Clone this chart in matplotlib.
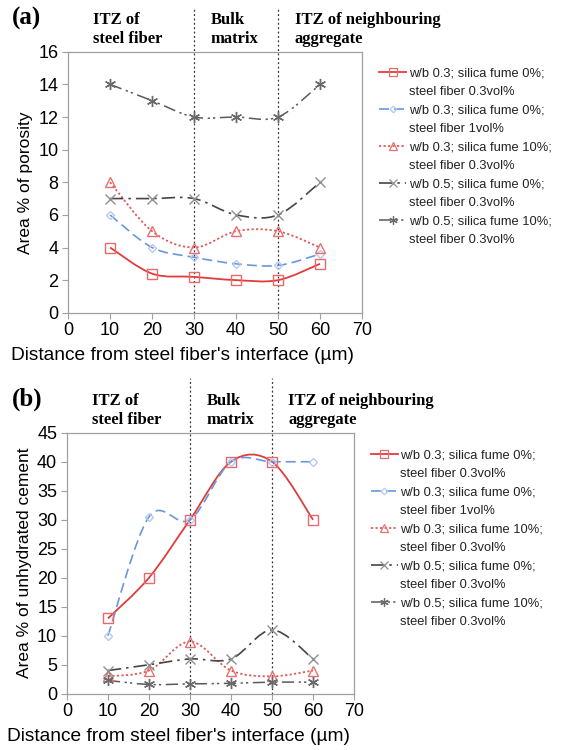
"""
Porosity and unhydrated cement around the steel fiber interface
"""
import matplotlib
matplotlib.use('Agg')
import matplotlib.pyplot as plt
from matplotlib.path import Path
from matplotlib.patches import PathPatch
from matplotlib.lines import Line2D

distance = [10, 20, 30, 40, 50, 60]

labels = ['w/b 0.3; silica fume 0%;\nsteel fiber 0.3vol%',
          'w/b 0.3; silica fume 0%;\nsteel fiber 1vol%',
          'w/b 0.3; silica fume 10%;\nsteel fiber 0.3vol%',
          'w/b 0.5; silica fume 0%;\nsteel fiber 0.3vol%',
          'w/b 0.5; silica fume 10%;\nsteel fiber 0.3vol%']

# (a) area % of porosity
porosity_s1 = [4, 2.4, 2.2, 2, 2, 3]
porosity_s2 = [6, 4, 3.4, 3, 2.9, 3.6]
porosity_s3 = [8, 5, 4, 5, 5, 4]
porosity_s4 = [7, 7, 7, 6, 6, 8]
porosity_s5 = [14, 13, 12, 12, 12, 14]

# (b) area % of unhydrated cement
unhydrated_s1 = [13, 20, 30, 40, 40, 30]
unhydrated_s2 = [10, 30.5, 30, 40, 40, 40]
unhydrated_s3 = [3, 4, 9, 4, 3, 4]
unhydrated_s4 = [4, 5, 6, 6, 11, 6]
unhydrated_s5 = [2.3, 1.6, 1.7, 1.8, 2, 2]

styles = [
    dict(color='#e03c3c', ls='-', lw=1.3, marker='s', mec='#e86a6a', ms=7.5),
    dict(color='#6a96e0', ls=(0, (6, 3)), lw=1.2, marker='D', mec='#b8c8ee', ms=4.5),
    dict(color='#e05858', ls=(0, (1.2, 1.3)), lw=1.3, marker='^', mec='#e87070', ms=7.5),
    dict(color='#454545', ls=(0, (8, 3, 1.5, 3)), lw=1.2, marker='x', mec='#909090', ms=7),
    dict(color='#5a5a5a', ls=(0, (8, 3, 1.5, 2, 1.5, 3)), lw=1.1,
         marker=(6, 2, 0), mec='#6a6a6a', ms=8),
]

serif = ['Liberation Serif', 'DejaVu Serif']
sans = ['Liberation Sans', 'DejaVu Sans']
plt.rcParams['font.family'] = sans


def smooth_path(x, y):
    # Excel-like smoothed line (Bezier segments through the points)
    pts = list(zip(x, y))
    verts = [pts[0]]
    codes = [Path.MOVETO]
    n = len(pts)
    for i in range(n - 1):
        p0 = pts[i - 1] if i > 0 else pts[i]
        p1 = pts[i]
        p2 = pts[i + 1]
        p3 = pts[i + 2] if i + 2 < n else pts[i + 1]
        c1 = (p1[0] + (p2[0] - p0[0]) / 6, p1[1] + (p2[1] - p0[1]) / 6)
        c2 = (p2[0] - (p3[0] - p1[0]) / 6, p2[1] - (p3[1] - p1[1]) / 6)
        verts += [c1, c2, p2]
        codes += [Path.CURVE4] * 3
    return Path(verts, codes)


def draw_panel(ax, series, ymax, ystep, ylabel, tag, vtop, leg_y):
    for vals, st in zip(series, styles):
        ax.add_patch(PathPatch(smooth_path(distance, vals), fill=False,
                               edgecolor=st['color'], linestyle=st['ls'],
                               lw=st['lw'], zorder=3))
        ax.plot(distance, vals, linestyle='none', marker=st['marker'],
                mfc='none', mec=st['mec'], ms=st['ms'], mew=1.0, zorder=4)
    for xv in (30, 50):
        ax.axvline(xv, ymin=0, ymax=vtop, color='#333333', lw=0.9,
                   ls=(0, (1.5, 2)), clip_on=False, zorder=2)
    ax.set_xlim(0, 70)
    ax.set_ylim(0, ymax)
    ax.set_xticks(range(0, 71, 10))
    ax.set_yticks(range(0, ymax + 1, ystep))
    for sp in ax.spines.values():
        sp.set_color('#a0a0a0')
        sp.set_linewidth(0.9)
    ax.tick_params(direction='out', length=4, color='#a0a0a0',
                   labelsize=13, pad=3)
    ax.set_ylabel(ylabel, fontsize=12.5, labelpad=4)
    ax.set_xlabel("Distance from steel fiber's interface (\u00b5m)",
                  fontsize=13.8)
    ax.xaxis.set_label_coords(0.39, -0.13)
    kw = dict(transform=ax.transData, fontfamily=serif, fontweight='bold',
              fontsize=12, va='bottom', ha='left', linespacing=1.2)
    ytxt = ymax * 1.02
    ax.text(6, ytxt, 'ITZ of\nsteel fiber', **kw)
    ax.text(34, ytxt, 'Bulk\nmatrix', **kw)
    ax.text(54, ytxt, 'ITZ of neighbouring\naggregate', **kw)
    ax.text(-0.19, 1.085, tag, transform=ax.transAxes, fontfamily=serif,
            fontweight='bold', fontsize=18, ha='left', va='bottom')

    # legend: handle on the first line of each two-line label
    handles, rows = [], []
    for st, lab in zip(styles, labels):
        first, second = lab.split('\n')
        handles.append(Line2D([], [], color=st['color'], ls=st['ls'], lw=st['lw'],
                              marker=st['marker'], mfc='none', mec=st['mec'],
                              ms=st['ms'] * 0.75, mew=0.9))
        rows.append(first)
        handles.append(Line2D([], [], color='none', lw=0))
        rows.append(second)
    leg = ax.legend(handles, rows, loc='upper left',
                    bbox_to_anchor=(1.04, leg_y), frameon=False, fontsize=9.3,
                    handlelength=2.1, handletextpad=0.2, labelspacing=0.5,
                    borderaxespad=0)
    for t in leg.get_texts():
        t.set_color('#222222')


fig = plt.figure(figsize=(5.72, 7.5), dpi=100)
ax_a = fig.add_axes([0.119, 0.583, 0.514, 0.348])
ax_b = fig.add_axes([0.117, 0.075, 0.502, 0.348])

draw_panel(ax_a, [porosity_s1, porosity_s2, porosity_s3, porosity_s4, porosity_s5],
           16, 2, 'Area % of porosity', '(a)', 1.17, 0.96)
draw_panel(ax_b, [unhydrated_s1, unhydrated_s2, unhydrated_s3, unhydrated_s4,
                  unhydrated_s5],
           45, 5, 'Area % of unhydrated cement', '(b)', 1.21, 0.955)

fig.savefig('out.png', dpi=100, facecolor='white')
